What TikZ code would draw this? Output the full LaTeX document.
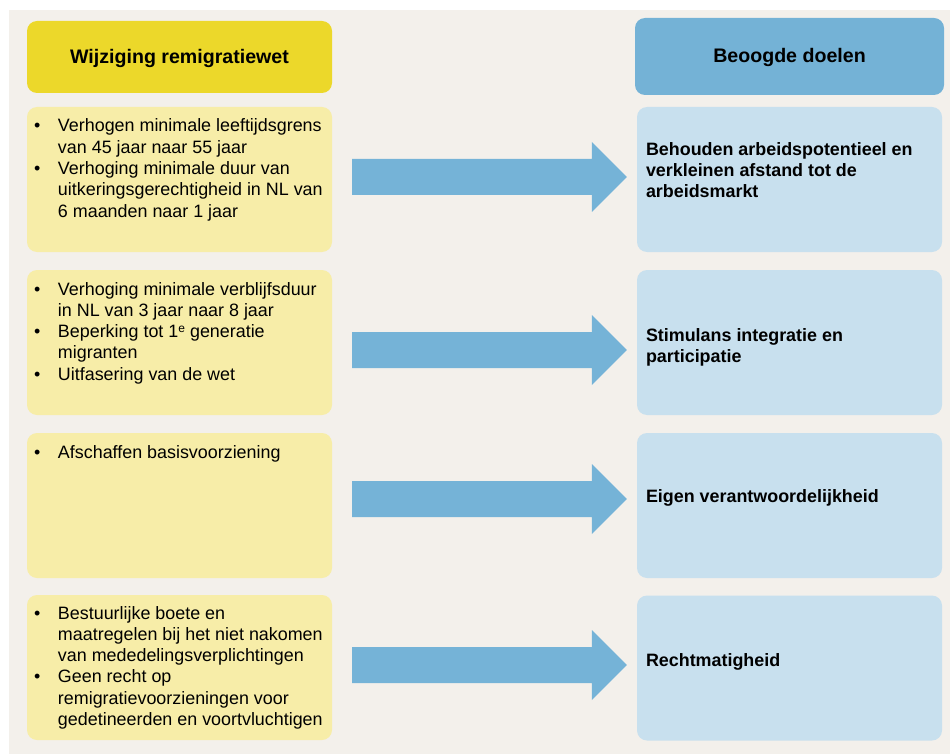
\documentclass[tikz,border=0pt]{standalone}
\usepackage{fontspec}
\setmainfont{Liberation Sans}
\usetikzlibrary{calc}
\definecolor{bggray}{HTML}{F3F0EB}
\definecolor{hyel}{HTML}{ECD82A}
\definecolor{lyel}{HTML}{F7EDA8}
\definecolor{hblue}{HTML}{74B2D6}
\definecolor{lblue}{HTML}{C8E0EE}
\definecolor{arrowfill}{HTML}{75B3D7}
\newcommand\bl{\makebox[24pt][l]{\textbullet}}
\newcommand\ind{\hspace*{24pt}}
\newcommand\firststrut{\rule{0pt}{16pt}}
\newcommand\blockarr[2]{\fill[arrowfill] ($(#1)+(0,-18)$) -- ($(#2)+(-35,-18)$) -- ($(#2)+(-35,-35)$) -- (#2) -- ($(#2)+(-35,35)$) -- ($(#2)+(-35,18)$) -- ($(#1)+(0,18)$) -- cycle;}
\tikzset{
  hdrbox/.style={rounded corners=10pt, inner sep=0pt, text height=13pt, text depth=0pt, font=\fontsize{19.6}{23}\selectfont\bfseries},
  lbox/.style={fill=lyel, rounded corners=10pt, inner sep=0pt, minimum width=305pt, minimum height=145pt},
  rbox/.style={fill=lblue, rounded corners=10pt, inner sep=0pt, minimum width=305pt, minimum height=145pt},
  ltext/.style={anchor=north west, inner sep=0pt, align=left, font=\fontsize{17.9}{21.3}\selectfont},
  rtext/.style={anchor=north west, inner sep=0pt, align=left, font=\fontsize{17.9}{21.4}\selectfont\bfseries},
}
\begin{document}
\begin{tikzpicture}[x=1pt,y=-1pt]
\useasboundingbox (0,0) rectangle (950,754);
\fill[white] (0,0) rectangle (950,754);
\fill[bggray] (9,10) rectangle (950,754);

% headers
\node[hdrbox, fill=hyel, minimum width=305pt, minimum height=72pt] (hl) at (179.5,57) {Wijziging remigratiewet};
\node[hdrbox, fill=hblue, minimum width=309pt, minimum height=77pt] (hr) at (789.5,56.5) {Beoogde doelen};

% left boxes
\node[lbox] (l1) at (179.5,179.5) {};
\node[lbox] (l2) at (179.5,342.5) {};
\node[lbox] (l3) at (179.5,505.5) {};
\node[lbox] (l4) at (179.5,667.5) {};

% right boxes
\node[rbox] (r1) at (789.5,179.5) {};
\node[rbox] (r2) at (789.5,342.5) {};
\node[rbox] (r3) at (789.5,505.5) {};
\node[rbox] (r4) at (789.5,668) {};

% left texts
\node[ltext] (t1) at ($(l1.north west)+(7,9)$) {\firststrut\bl Verhogen minimale leeftijdsgrens\\
\ind van 45 jaar naar 55 jaar\\
\bl Verhoging minimale duur van\\
\ind uitkeringsgerechtigheid in NL van\\
\ind 6 maanden naar 1 jaar};
\node[ltext] (t2) at ($(l2.north west)+(7,9)$) {\firststrut\bl Verhoging minimale verblijfsduur\\
\ind in NL van 3 jaar naar 8 jaar\\
\bl Beperking tot 1{\fontsize{12}{12}\selectfont\raisebox{5pt}{e}} generatie\\
\ind migranten\\
\bl Uitfasering van de wet};
\node[ltext] (t3) at ($(l3.north west)+(7,9)$) {\firststrut\bl Afschaffen basisvoorziening};
\node[ltext] (t4) at ($(l4.north west)+(7,8)$) {\firststrut\bl Bestuurlijke boete en\\
\ind maatregelen bij het niet nakomen\\
\ind van mededelingsverplichtingen\\
\bl Geen recht op\\
\ind remigratievoorzieningen voor\\
\ind gedetineerden en voortvluchtigen};

% right texts
\node[rtext] (u1) at ($(r1.north west)+(9,32)$) {\firststrut Behouden arbeidspotentieel en\\verkleinen afstand tot de\\arbeidsmarkt};
\node[rtext] (u2) at ($(r2.north west)+(9,55)$) {\firststrut Stimulans integratie en\\participatie};
\node[rtext] (u3) at ($(r3.north west)+(9,53)$) {\firststrut Eigen verantwoordelijkheid};
\node[rtext] (u4) at ($(r4.north west)+(9,54.5)$) {\firststrut Rechtmatigheid};

% arrows
\coordinate (a1t) at ($(l1.east)+(20,-2.5)$);
\coordinate (a1h) at ($(r1.west)+(-10,-2.5)$);
\coordinate (a2t) at ($(l2.east)+(20,7.5)$);
\coordinate (a2h) at ($(r2.west)+(-10,7.5)$);
\coordinate (a3t) at ($(l3.east)+(20,-6.5)$);
\coordinate (a3h) at ($(r3.west)+(-10,-6.5)$);
\coordinate (a4t) at ($(l4.east)+(20,-2.5)$);
\coordinate (a4h) at ($(r4.west)+(-10,-3)$);
\blockarr{a1t}{a1h}
\blockarr{a2t}{a2h}
\blockarr{a3t}{a3h}
\blockarr{a4t}{a4h}
\end{tikzpicture}
\end{document}
